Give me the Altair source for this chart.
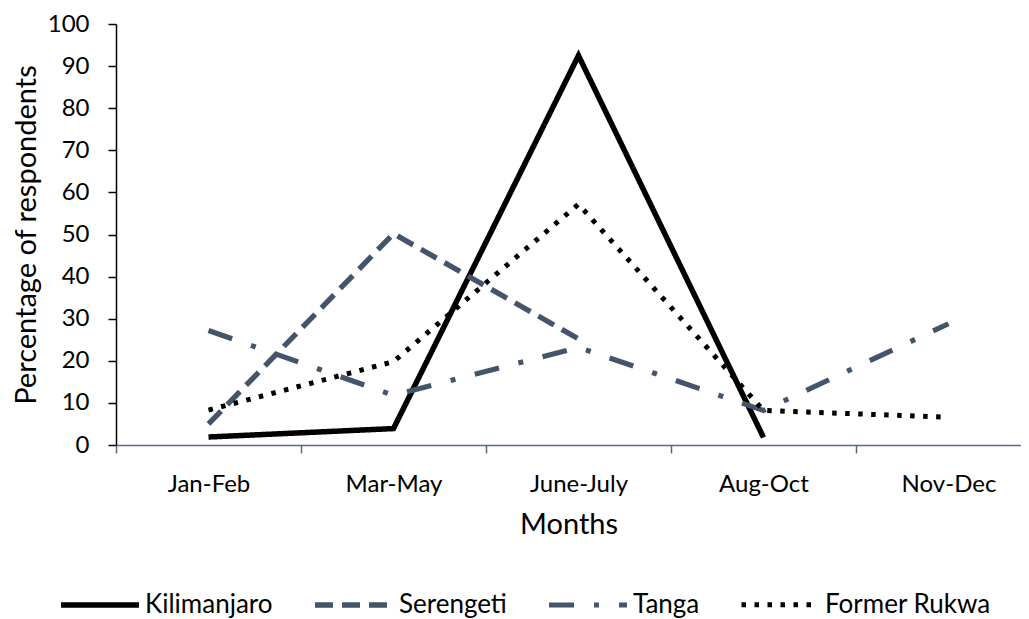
import json
import altair as alt
import pandas as pd

categories = ["Jan-Feb", "Mar-May", "June-July", "Aug-Oct", "Nov-Dec"]
series_names = ["Kilimanjaro", "Serengeti", "Tanga", "Former Rukwa"]
kilimanjaro = [1.9, 3.9, 92.5, 1.8, None]
serengeti = [5.0, 50.2, 25.2, None, None]
tanga = [27.2, 11.8, 23.2, 8.2, 28.8]
former_rukwa = [8.3, 19.8, 57.2, 8.2, 6.6]

series_values = [kilimanjaro, serengeti, tanga, former_rukwa]
colors = ["#000000", "#44546A", "#44546A", "#000000"]
dashes = [[1, 0], [18, 9], [25, 20, 5, 20], [4.5, 8.5]]
widths = [5.5, 5, 5, 4.6]

rows = []
for name, vals in zip(series_names, series_values):
    for i, (cat, v) in enumerate(zip(categories, vals)):
        if v is not None:
            rows.append({"series": name, "idx": i, "month": cat, "value": v})
df = pd.DataFrame(rows)

FONT = "Lato"
label_expr = f"{json.dumps(categories)}[round(datum.value + 0.5)]"

chart = alt.Chart(df).mark_line(strokeCap="butt").encode(
    x=alt.X(
        "idx:Q",
        scale=alt.Scale(domain=[-0.5, 4.392], nice=False, zero=False),
        axis=alt.Axis(
            title="Months",
            values=[-0.5, 0.5, 1.5, 2.5, 3.5],
            labelExpr=label_expr,
            labelOffset=92.5,
            labelFlush=False,
            labelOverlap=False,
            grid=False,
            tickSize=8,
            labelPadding=19,
            titlePadding=14,
            domainColor="#5A6A85",
            tickColor="#5A6A85",
            domainWidth=1.5,
            tickWidth=1.5,
        ),
    ),
    y=alt.Y(
        "value:Q",
        scale=alt.Scale(domain=[0, 100], nice=False),
        axis=alt.Axis(
            title="Percentage of respondents",
            values=list(range(0, 101, 10)),
            grid=False,
            tickSize=8,
            labelPadding=19,
            titleX=-90,
            titleBaseline="middle",
            domainColor="#000000",
            tickColor="#000000",
            domainWidth=1.5,
            tickWidth=1.5,
        ),
    ),
    color=alt.Color(
        "series:N",
        scale=alt.Scale(domain=series_names, range=colors),
        legend=alt.Legend(
            title=None,
            orient="none",
            direction="horizontal",
            legendX=-58,
            legendY=539,
            symbolType="stroke",
            symbolSize=6084,
            labelOffset=3,
            columnPadding=31,
            labelFontSize=26,
            labelFont=FONT,
            labelLimit=400,
            labelColor="#000000",
            padding=0,
        ),
    ),
    strokeDash=alt.StrokeDash(
        "series:N", scale=alt.Scale(domain=series_names, range=dashes)
    ),
    strokeWidth=alt.StrokeWidth(
        "series:N", scale=alt.Scale(domain=series_names, range=widths)
    ),
    detail="series:N",
).properties(
    width=905,
    height=421,
    padding={"left": 108, "top": 16, "right": 0, "bottom": 174},
    autosize=alt.AutoSizeParams(type="none"),
    background="#ffffff",
).configure_view(stroke=None).configure_axis(
    labelFont=FONT,
    titleFont=FONT,
    labelFontSize=24,
    titleFontSize=29,
    titleFontWeight="normal",
    labelColor="#000000",
    titleColor="#000000",
)

chart.save("out.html", embed_options={"renderer": "svg", "actions": False})
